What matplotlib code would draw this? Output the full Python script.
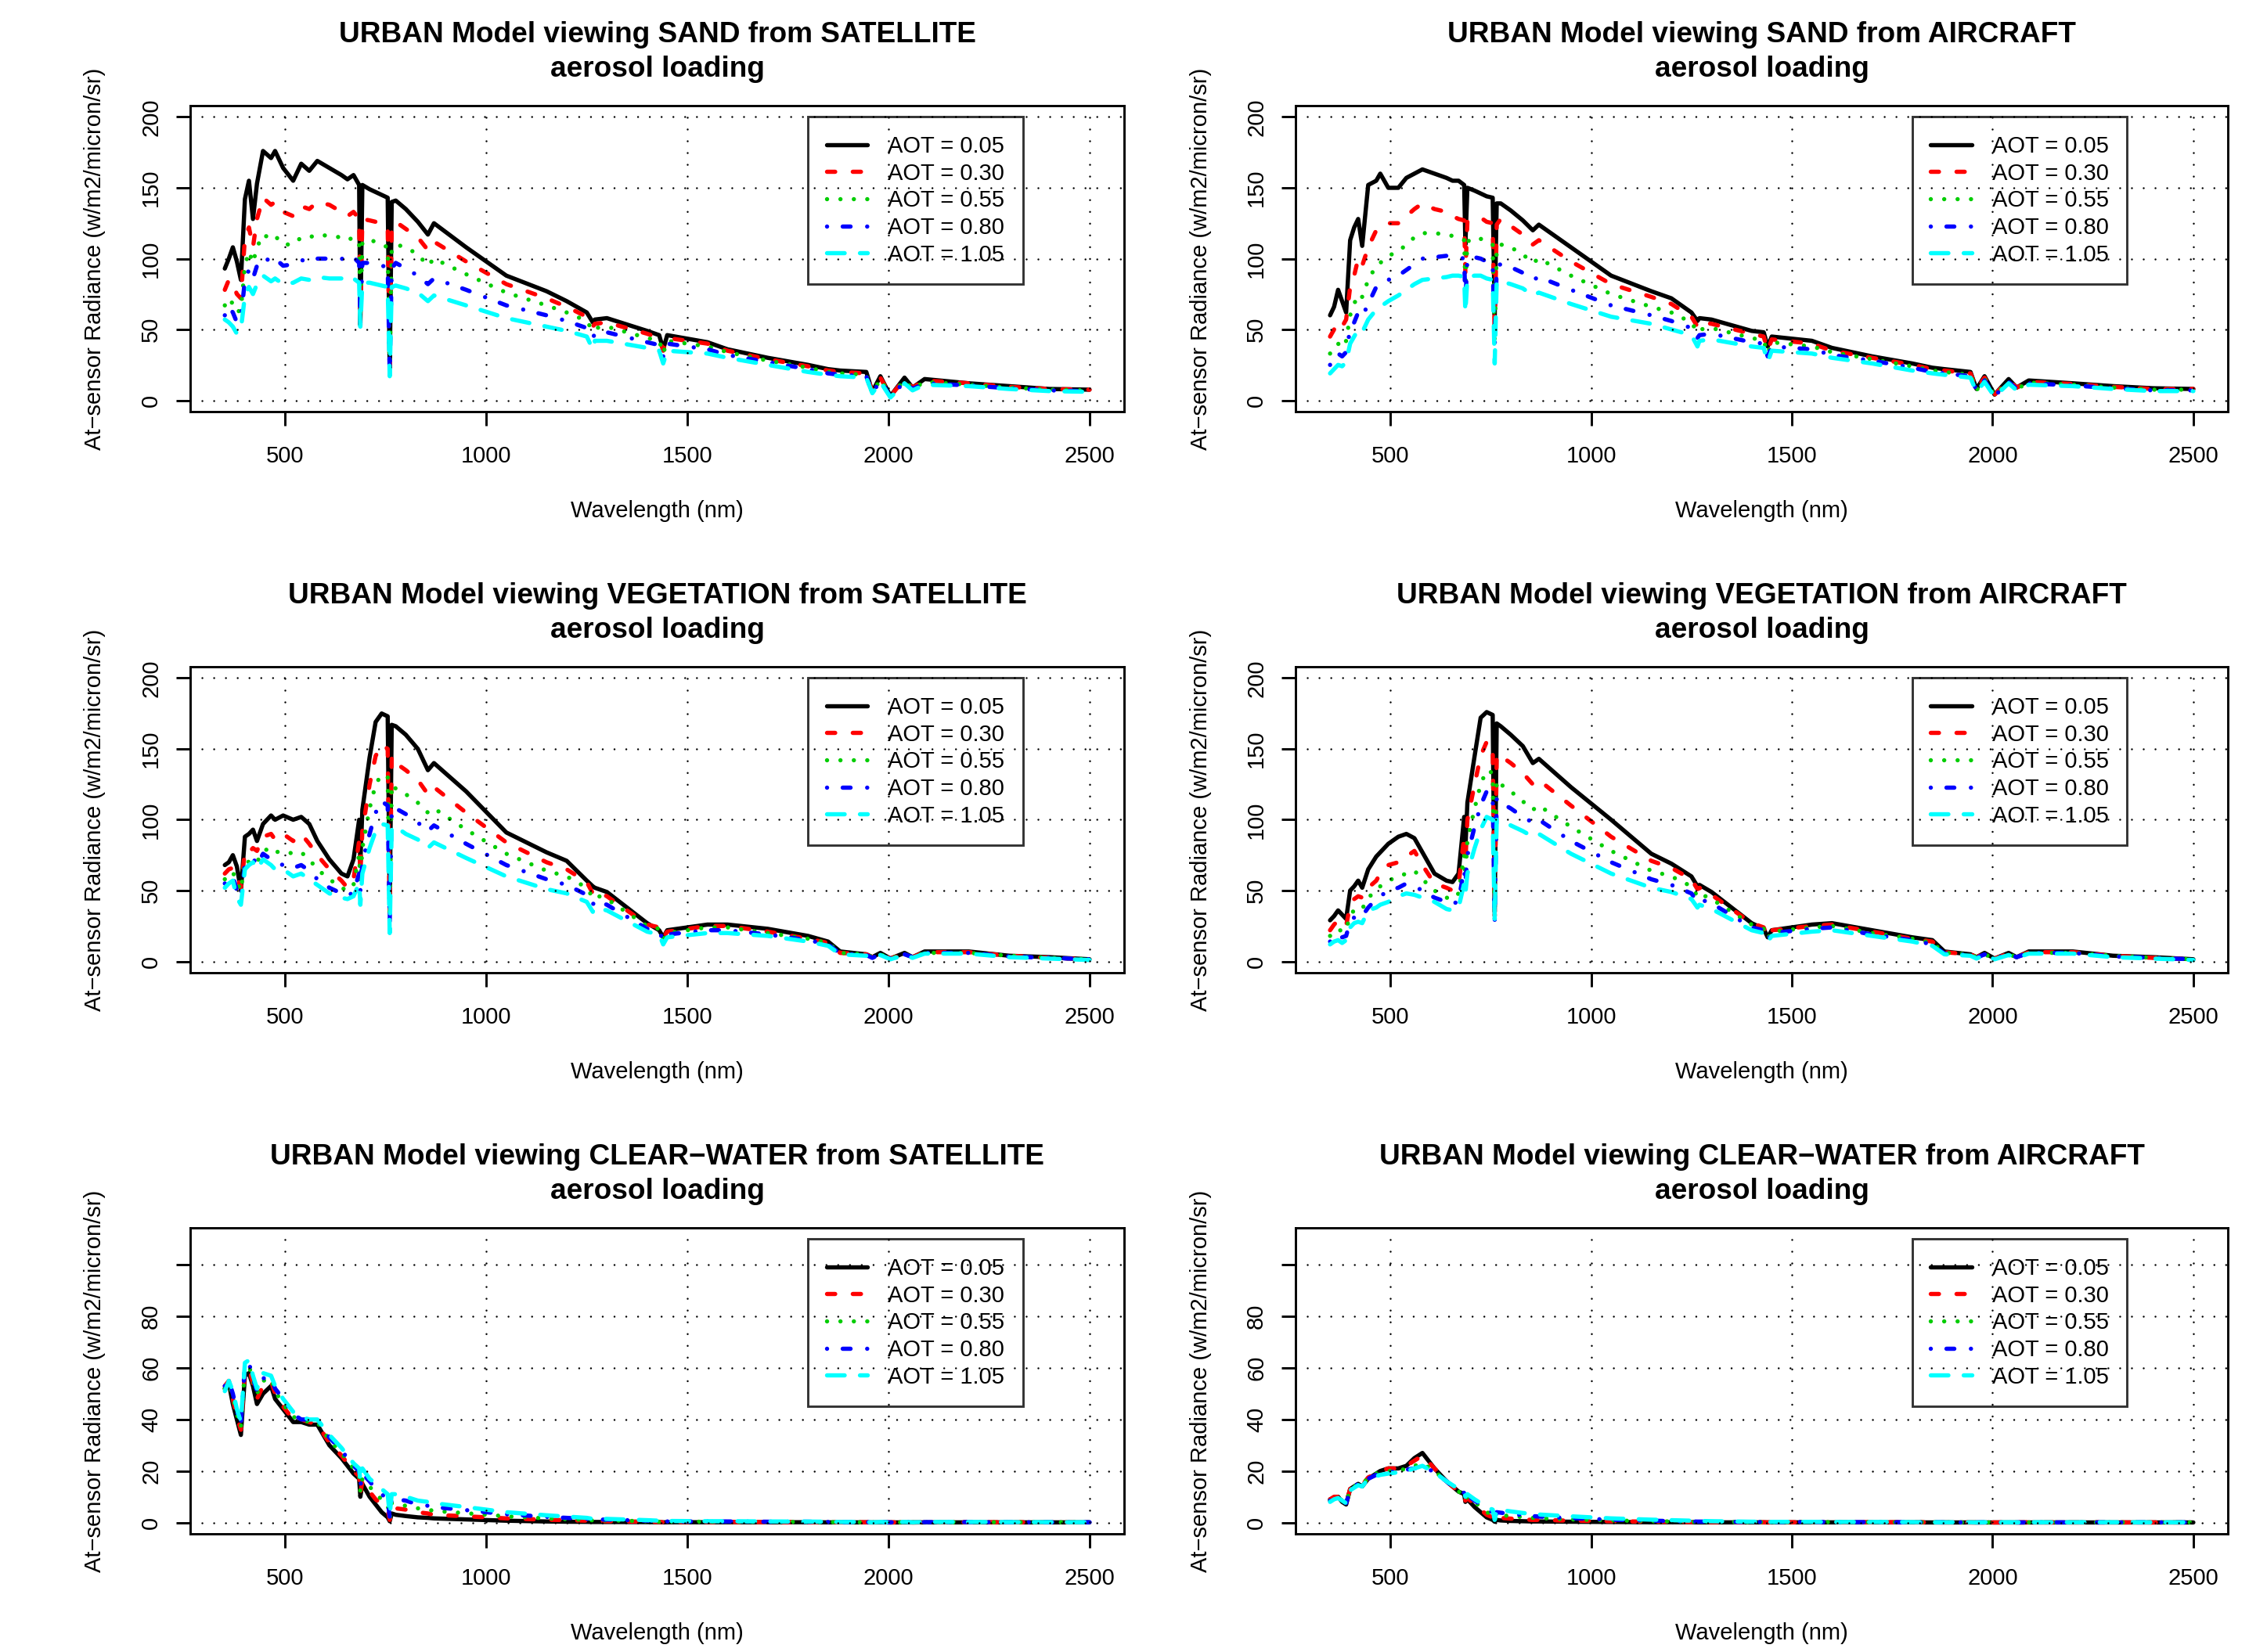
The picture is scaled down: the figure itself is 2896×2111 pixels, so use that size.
import matplotlib
matplotlib.use('Agg')
import matplotlib.pyplot as plt

plt.rcParams['font.family'] = ['Liberation Sans', 'DejaVu Sans']
plt.rcParams['lines.scale_dashes'] = False

# wavelength grid (nm), shared by all panels
wl = [350, 360, 370, 380, 390, 400, 410, 420, 430, 445,
      465, 475, 495, 520, 540, 560, 580, 610, 640, 655,
      670, 684, 687, 692, 710, 725, 740, 755, 760, 765, 775,
      800, 830, 855, 870, 950, 1050, 1150, 1200, 1250, 1265, 1270, 1300,
      1400, 1430, 1440, 1450, 1550, 1600, 1700, 1800, 1850, 1880,
      1945, 1960, 1980, 2005, 2040, 2060, 2090, 2200, 2300, 2400, 2500]

aot_labels = ['AOT = 0.05', 'AOT = 0.30', 'AOT = 0.55', 'AOT = 0.80', 'AOT = 1.05']

# ---- SAND, satellite
sand_sat_05 = [93, 100, 108, 98, 85, 142, 155, 128, 153, 176,
               171, 176, 164, 155, 167, 162, 169, 164, 159, 156,
               159, 152, 53, 152, 149, 147, 145, 143, 20, 140, 141,
               135, 126, 117, 125, 108, 88, 77, 70, 62, 55, 57, 58,
               49, 46, 36, 46, 41, 36, 30, 25, 22, 21,
               20, 6, 17, 3, 16, 9, 15, 12, 10, 8, 7.5]
sand_sat_30 = [78, 85, 82, 75, 72, 115, 122, 108, 128, 143,
               138, 140, 133, 130, 137, 135, 140, 138, 133, 130,
               133, 128, 62, 128, 127, 126, 124, 122, 25, 122, 126,
               121, 115, 106, 112, 98, 82, 72, 66, 59, 52, 54, 55,
               47, 44, 35, 44, 40, 35, 29, 24, 21, 20,
               19, 6, 16, 3, 15, 9, 14, 12, 9.5, 8, 7.5]
sand_sat_55 = [67, 72, 68, 62, 64, 95, 105, 97, 108, 117,
               114, 116, 110, 110, 115, 115, 117, 116, 115, 113,
               115, 111, 58, 112, 113, 112, 110, 108, 22, 106, 110,
               108, 103, 95, 100, 89, 76, 67, 62, 56, 49, 51, 52,
               44, 42, 33, 42, 38, 34, 28, 23, 20, 19,
               18, 5, 15, 3, 14, 8, 13, 11, 9, 7.5, 7]
sand_sat_80 = [60, 66, 62, 55, 58, 85, 92, 86, 95, 101,
               98, 100, 95, 96, 99, 98, 100, 100, 100, 99,
               101, 97, 55, 97, 97, 96, 95, 94, 20, 93, 97,
               93, 88, 82, 86, 78, 67, 60, 56, 51, 44, 47, 48,
               41, 39, 31, 40, 36, 32, 27, 22, 19, 18,
               17, 5, 14, 2.5, 13, 8, 12, 10.5, 8.5, 7, 6.5]
sand_sat_105 = [57, 55, 52, 47, 50, 74, 80, 75, 82, 88,
                84, 86, 82, 83, 86, 85, 87, 86, 86, 84,
                86, 83, 52, 83, 83, 82, 81, 80, 17, 80, 81,
                79, 76, 70, 74, 67, 58, 52, 49, 45, 36, 42, 42,
                37, 35, 26, 35, 33, 30, 25, 20, 18, 17,
                16, 5, 13, 2, 12, 7, 11, 10, 8, 6.5, 6]

# ---- SAND, aircraft
sand_air_05 = [60, 66, 78, 70, 62, 113, 122, 128, 109, 152,
               155, 160, 150, 150, 157, 160, 163, 160, 157, 155,
               155, 152, 110, 150, 148, 146, 144, 143, 60, 139, 139,
               134, 127, 120, 124, 108, 88, 77, 72, 62, 56, 58, 57,
               49, 48, 38, 45, 42, 37, 31, 26, 23, 22,
               20, 8, 17, 4, 15, 9, 14, 12, 10, 8.5, 8]
sand_air_30 = [45, 50, 55, 52, 57, 80, 88, 100, 95, 108,
               120, 122, 125, 125, 130, 135, 139, 135, 133, 130,
               128, 127, 90, 126, 128, 129, 126, 125, 45, 124, 128,
               123, 117, 110, 113, 98, 82, 73, 68, 59, 52, 55, 54,
               47, 45, 35, 43, 40, 35, 30, 25, 22, 21,
               19, 8, 16, 4, 14, 9, 13, 11.5, 9.5, 8, 8]
sand_air_55 = [33, 38, 40, 37, 42, 60, 68, 75, 73, 85,
               95, 97, 102, 105, 110, 115, 118, 118, 117, 116,
               114, 113, 80, 112, 115, 114, 112, 110, 40, 108, 110,
               108, 103, 97, 100, 88, 75, 66, 62, 55, 48, 50, 51,
               44, 42, 33, 41, 38, 34, 29, 24, 21, 20,
               18, 7, 15, 3.5, 13, 8, 12.5, 11, 9, 7.5, 7.5]
sand_air_80 = [25, 30, 33, 31, 34, 50, 55, 62, 59, 68,
               80, 83, 85, 88, 92, 96, 100, 101, 102, 102,
               101, 100, 70, 100, 101, 100, 98, 97, 38, 95, 96,
               94, 90, 85, 87, 78, 67, 60, 56, 51, 44, 46, 47,
               41, 40, 31, 38, 36, 32, 28, 23, 20, 19,
               17, 7, 14, 3, 13, 8, 12, 10.5, 8.5, 7, 7]
sand_air_105 = [19, 22, 25, 24, 27, 40, 45, 50, 48, 57,
                64, 66, 70, 74, 78, 82, 85, 86, 87, 88,
                88, 87, 62, 87, 88, 88, 86, 85, 26, 84, 84,
                82, 79, 74, 76, 68, 59, 54, 50, 46, 38, 42, 43,
                38, 37, 27, 35, 33, 30, 26, 21, 19, 18,
                16, 6, 13, 2.5, 12, 7, 11, 10, 8, 6.5, 6.5]

# ---- VEGETATION, satellite
veg_sat_05 = [68, 70, 75, 67, 50, 88, 90, 93, 85, 97,
              103, 100, 103, 100, 102, 97, 85, 72, 62, 60,
              72, 100, 70, 107, 144, 169, 175, 173, 40, 167, 166,
              160, 150, 135, 140, 120, 91, 77, 71, 57, 53, 52, 49,
              27, 22, 17, 22, 26, 26, 23, 18, 14, 7,
              5, 3, 6, 2, 6, 3, 7, 7, 4, 3, 1.5]
veg_sat_30 = [62, 65, 66, 60, 52, 78, 77, 80, 78, 88,
              90, 86, 90, 85, 90, 83, 75, 65, 57, 52,
              58, 85, 62, 92, 125, 145, 153, 150, 35, 145, 140,
              135, 128, 118, 123, 105, 84, 70, 65, 56, 48, 50, 46,
              26, 24, 17, 21, 25, 25, 21, 16, 13, 6,
              5, 3, 5.5, 2, 5.5, 3, 6.5, 6.5, 4, 2.5, 1.5]
veg_sat_55 = [58, 62, 63, 56, 50, 72, 70, 72, 70, 78,
              80, 77, 78, 76, 77, 72, 65, 58, 52, 50,
              54, 75, 56, 80, 108, 125, 132, 130, 30, 125, 122,
              118, 112, 105, 108, 93, 76, 64, 60, 52, 45, 47, 44,
              25, 23, 16, 20, 24, 24, 20, 16, 13, 6,
              5, 3, 5, 2, 5, 3, 6, 6, 4, 2.5, 1.5]
veg_sat_80 = [55, 58, 60, 50, 45, 68, 70, 73, 68, 76,
              72, 70, 68, 66, 68, 64, 58, 52, 48, 46,
              49, 62, 50, 70, 90, 105, 113, 110, 28, 108, 108,
              104, 98, 92, 96, 83, 68, 58, 54, 47, 40, 43, 40,
              23, 21, 15, 19, 22, 22, 19, 15, 12, 5.5,
              4.5, 2.5, 5, 2, 5, 3, 6, 6, 3.5, 2.5, 1.5]
veg_sat_105 = [52, 55, 57, 45, 40, 65, 68, 70, 65, 72,
               68, 65, 65, 60, 62, 58, 54, 48, 45, 44,
               46, 55, 40, 62, 80, 92, 97, 96, 20, 95, 95,
               90, 86, 80, 84, 73, 60, 51, 48, 42, 35, 38, 36,
               21, 19, 12, 17, 20, 20, 18, 14, 11, 5,
               4, 2, 4.5, 1.5, 4.5, 2.5, 5.5, 5.5, 3, 2, 1]

# ---- VEGETATION, aircraft
veg_air_05 = [29, 32, 36, 33, 30, 50, 53, 57, 52, 65,
              74, 77, 83, 88, 90, 87, 77, 62, 57, 56,
              62, 102, 80, 112, 145, 172, 176, 174, 35, 168, 166,
              160, 152, 140, 143, 123, 100, 76, 69, 60, 53, 54, 49,
              27, 23, 17, 22, 26, 27, 22, 17, 15, 7,
              5, 3, 6, 2, 6, 3, 7, 7, 4, 3, 1.5]
veg_air_30 = [22, 26, 29, 26, 25, 40, 44, 46, 45, 52,
              57, 62, 68, 70, 74, 78, 68, 55, 52, 50,
              54, 88, 70, 100, 125, 145, 155, 152, 32, 146, 145,
              140, 133, 125, 128, 110, 88, 71, 66, 58, 51, 52, 47,
              27, 24, 17, 22, 25, 26, 21, 16, 14, 6.5,
              5, 3, 5.5, 2, 5.5, 3, 6.5, 6.5, 4, 2.5, 1.5]
veg_air_55 = [18, 21, 23, 21, 22, 33, 36, 38, 37, 45,
              50, 53, 57, 60, 62, 64, 58, 50, 45, 44,
              48, 75, 60, 85, 108, 125, 135, 133, 30, 128, 125,
              120, 113, 107, 110, 95, 78, 64, 60, 53, 46, 48, 44,
              26, 23, 16, 21, 24, 25, 20, 16, 13, 6,
              5, 3, 5, 2, 5, 3, 6, 6, 4, 2.5, 1.5]
veg_air_80 = [14, 17, 19, 17, 18, 28, 31, 33, 32, 38,
              44, 46, 50, 52, 55, 53, 50, 45, 42, 40,
              43, 65, 55, 75, 95, 110, 120, 118, 28, 115, 112,
              108, 102, 98, 100, 85, 70, 58, 54, 48, 42, 44, 41,
              24, 22, 15, 20, 23, 24, 19, 15, 12, 5.5,
              4.5, 2.5, 5, 2, 5, 3, 6, 6, 3.5, 2.5, 1.5]
veg_air_105 = [12, 14, 15, 13, 15, 24, 27, 28, 27, 36,
               38, 40, 42, 46, 48, 47, 45, 42, 37, 36,
               38, 55, 48, 62, 80, 93, 102, 100, 30, 100, 100,
               96, 92, 88, 90, 76, 62, 52, 49, 44, 38, 40, 37,
               22, 20, 14, 18, 21, 22, 18, 14, 11, 5,
               4, 2, 4.5, 1.5, 4.5, 2.5, 5.5, 5.5, 3, 2, 1]

# ---- CLEAR-WATER, satellite
water_sat_05 = [52, 54, 46, 40, 34, 57, 58, 53, 46, 50,
                53, 48, 44, 39, 39, 38, 38, 30, 25, 22,
                19, 17, 10, 15, 10, 7, 4, 2, 0.5, 3.5, 3,
                2.5, 2, 1.8, 1.6, 1.2, 0.7, 0.4, 0.3, 0.25, 0.2, 0.2, 0.2,
                0.15, 0.1, 0.05, 0.1, 0.1, 0.1, 0.1, 0.1, 0.05, 0.05,
                0.05, 0.02, 0.05, 0.02, 0.05, 0.02, 0.05, 0.05, 0.05, 0.05, 0.05]
water_sat_30 = [53, 55, 48, 41, 36, 59, 60, 54, 48, 53,
                55, 50, 45, 40, 40, 39, 38, 31, 26, 23,
                20, 18, 11, 16, 12, 9, 7, 5, 1, 6, 5.5,
                5, 4, 3.5, 3, 2.4, 1.6, 1.1, 0.9, 0.7, 0.5, 0.6, 0.5,
                0.3, 0.2, 0.1, 0.2, 0.2, 0.2, 0.15, 0.15, 0.1, 0.1,
                0.1, 0.05, 0.1, 0.05, 0.1, 0.05, 0.1, 0.1, 0.1, 0.1, 0.1]
water_sat_55 = [52, 54, 49, 42, 37, 60, 61, 55, 50, 55,
                56, 51, 46, 41, 40, 39, 39, 32, 27, 24,
                21, 19, 12, 17, 14, 11, 9, 7, 1.5, 7.5, 7,
                6.5, 5.5, 5, 4.5, 3.6, 2.4, 1.6, 1.3, 1.0, 0.8, 0.9, 0.8,
                0.5, 0.3, 0.15, 0.3, 0.3, 0.3, 0.2, 0.2, 0.15, 0.1,
                0.1, 0.05, 0.1, 0.05, 0.1, 0.05, 0.1, 0.1, 0.1, 0.1, 0.1]
water_sat_80 = [53, 55, 50, 43, 38, 61, 62, 56, 51, 56,
                56, 52, 48, 42, 40, 40, 40, 33, 28, 25,
                22, 20, 14, 19, 16, 13, 11, 9, 2, 9.5, 9,
                8.5, 7, 6.5, 6, 4.8, 3.2, 2.2, 1.8, 1.4, 1.1, 1.2, 1.1,
                0.7, 0.5, 0.2, 0.4, 0.4, 0.4, 0.3, 0.3, 0.2, 0.15,
                0.15, 0.05, 0.15, 0.05, 0.15, 0.1, 0.15, 0.15, 0.1, 0.1, 0.1]
water_sat_105 = [51, 55, 51, 44, 39, 62, 63, 57, 52, 58,
                 57, 53, 48, 43, 41, 40, 40, 34, 29, 26,
                 23, 21, 16, 21, 17, 15, 13, 11, 3, 11, 11,
                 10, 8.5, 8, 7.5, 6, 4, 2.8, 2.3, 1.8, 1.4, 1.5, 1.4,
                 0.9, 0.7, 0.3, 0.6, 0.5, 0.5, 0.4, 0.35, 0.3, 0.2,
                 0.2, 0.05, 0.2, 0.05, 0.2, 0.1, 0.2, 0.2, 0.15, 0.15, 0.1]

# ---- CLEAR-WATER, aircraft
water_air_05 = [9, 9.5, 10, 8, 7, 13, 14, 15, 14, 17,
                19, 20, 21, 21, 22, 25, 27, 21, 16, 14,
                12, 11, 8, 9, 6, 4, 2, 1, 0.3, 1, 0.8,
                0.6, 0.5, 0.4, 0.4, 0.3, 0.2, 0.1, 0.1, 0.1, 0.05, 0.05, 0.05,
                0.05, 0.05, 0.02, 0.05, 0.05, 0.05, 0.05, 0.05, 0.02, 0.02,
                0.02, 0.01, 0.02, 0.01, 0.02, 0.01, 0.02, 0.02, 0.02, 0.02, 0.02]
water_air_30 = [9, 10, 10, 8.5, 7.5, 13, 14, 15, 14.5, 17.5,
                19, 20, 21, 21, 22, 24, 26, 21, 16, 14,
                12, 11, 8.5, 9.5, 7, 5, 3, 2, 0.5, 2, 1.8,
                1.5, 1.2, 1.0, 1.0, 0.7, 0.5, 0.3, 0.25, 0.2, 0.15, 0.15, 0.15,
                0.1, 0.1, 0.05, 0.1, 0.1, 0.1, 0.1, 0.1, 0.05, 0.05,
                0.05, 0.02, 0.05, 0.02, 0.05, 0.02, 0.05, 0.05, 0.05, 0.05, 0.05]
water_air_55 = [8.5, 9.5, 10, 8.5, 7.5, 13, 14, 15, 14.5, 17.5,
                19, 19.5, 20, 20, 21, 22, 23, 20, 16, 14,
                12, 11, 9, 10, 8, 6, 4, 3, 0.8, 3, 2.8,
                2.5, 2.1, 1.8, 1.7, 1.2, 0.8, 0.5, 0.4, 0.3, 0.25, 0.25, 0.25,
                0.15, 0.15, 0.05, 0.15, 0.15, 0.15, 0.1, 0.1, 0.1, 0.05,
                0.05, 0.02, 0.05, 0.02, 0.05, 0.02, 0.05, 0.05, 0.05, 0.05, 0.05]
water_air_80 = [8.5, 9, 9.5, 8.5, 7.5, 12.5, 14, 15, 14.5, 17,
                18.5, 19, 19.5, 20, 20.5, 21, 22, 19.5, 16, 14,
                12.5, 11.5, 9, 10.5, 8.5, 7, 5, 4, 1, 4, 3.8,
                3.3, 2.8, 2.5, 2.3, 1.7, 1.1, 0.7, 0.55, 0.4, 0.35, 0.35, 0.3,
                0.2, 0.2, 0.1, 0.2, 0.2, 0.15, 0.15, 0.1, 0.1, 0.05,
                0.05, 0.02, 0.05, 0.02, 0.05, 0.02, 0.05, 0.05, 0.05, 0.05, 0.05]
water_air_105 = [8, 9, 9.5, 8.5, 7.5, 12.5, 13.5, 14.5, 14, 17,
                 18, 18.5, 19, 19.5, 20, 21, 22, 19.5, 16, 14.5,
                 13, 12, 10, 11, 9, 7.5, 6, 5, 1, 5, 4.8,
                 4.3, 3.7, 3.3, 3.1, 2.4, 1.6, 1.1, 0.9, 0.7, 0.5, 0.6, 0.5,
                 0.3, 0.3, 0.1, 0.25, 0.25, 0.2, 0.2, 0.15, 0.1, 0.1,
                 0.1, 0.03, 0.1, 0.03, 0.1, 0.05, 0.1, 0.1, 0.1, 0.08, 0.08]

panels = [
    ('URBAN Model viewing SAND from SATELLITE',
     [sand_sat_05, sand_sat_30, sand_sat_55, sand_sat_80, sand_sat_105], 200, 50),
    ('URBAN Model viewing SAND from AIRCRAFT',
     [sand_air_05, sand_air_30, sand_air_55, sand_air_80, sand_air_105], 200, 50),
    ('URBAN Model viewing VEGETATION from SATELLITE',
     [veg_sat_05, veg_sat_30, veg_sat_55, veg_sat_80, veg_sat_105], 200, 50),
    ('URBAN Model viewing VEGETATION from AIRCRAFT',
     [veg_air_05, veg_air_30, veg_air_55, veg_air_80, veg_air_105], 200, 50),
    ('URBAN Model viewing CLEAR\u2212WATER from SATELLITE',
     [water_sat_05, water_sat_30, water_sat_55, water_sat_80, water_sat_105], 110, 20),
    ('URBAN Model viewing CLEAR\u2212WATER from AIRCRAFT',
     [water_air_05, water_air_30, water_air_55, water_air_80, water_air_105], 110, 20),
]

# R default palette 1:5 and lty 1:5 (round caps, dash lengths in points)
line_colors = ['black', 'red', '#00CD00', 'blue', 'cyan']
line_styles = ['-', (0, (2.5, 5.4)), (0, (0.01, 4.1)),
               (0, (0.01, 4.8, 2.4, 5.1)), (0, (5.4, 4.7))]
LW = 1.3

W, H, DPI = 2896, 2111, 300
fig = plt.figure(figsize=(W / DPI, H / DPI), dpi=DPI)
fig.patch.set_facecolor('white')

col_x = [(243, 1436), (1655, 2846)]
row_top = [135, 852, 1569]
box_h = 391
xlo, xhi = 350, 2500

for i, (title, series, ymax, ystep) in enumerate(panels):
    left, right = col_x[i % 2]
    top = row_top[i // 2]
    ax = fig.add_axes([left / W, 1 - (top + box_h) / H, (right - left) / W, box_h / H])

    handles = []
    for vals, c, ls in zip(series, line_colors, line_styles):
        h, = ax.plot(wl, vals, color=c, linestyle=ls, lw=LW,
                     dash_capstyle='round', solid_capstyle='round',
                     solid_joinstyle='round', dash_joinstyle='round')
        handles.append(h)

    # R style 4% axis expansion
    dx = 0.04 * (xhi - xlo)
    ax.set_xlim(xlo - dx, xhi + dx)
    ax.set_ylim(-0.04 * ymax, 1.04 * ymax)

    xt = [500, 1000, 1500, 2000, 2500]
    yt = list(range(0, (ymax // ystep) * ystep + 1, ystep))
    ax.set_xticks(xt)
    ax.set_yticks(yt)
    ylabs = [str(v) for v in yt]
    if ymax == 110:
        ylabs[-1] = ''  # R drops the overlapping top label
    ax.set_yticklabels(ylabs)

    ax.tick_params(direction='out', length=4.3, width=0.7, labelsize=7,
                   top=False, right=False)
    ax.tick_params(axis='x', pad=6.0)
    ax.tick_params(axis='y', pad=4.3, labelrotation=90)
    for lab in ax.get_yticklabels():
        lab.set_verticalalignment('center')
    for sp in ax.spines.values():
        sp.set_linewidth(0.7)

    # dotted grid like grid()
    for x in xt:
        ax.axvline(x, color='black', lw=0.6, linestyle=(0, (0.01, 3.6)),
                   dash_capstyle='round', zorder=6)
    for y in yt:
        ax.axhline(y, color='black', lw=0.6, linestyle=(0, (0.01, 3.6)),
                   dash_capstyle='round', zorder=6)

    leg = ax.legend(handles, aot_labels, loc='upper left',
                    bbox_to_anchor=(1800, ymax), bbox_transform=ax.transData,
                    borderaxespad=0, fancybox=False, frameon=True,
                    edgecolor='black', facecolor='none', framealpha=None,
                    fontsize=7, handlelength=1.8, handletextpad=0.9,
                    borderpad=0.8, labelspacing=0.23)
    leg.get_frame().set_linewidth(0.7)

    ax.text(0.5, 1.232, title, transform=ax.transAxes, ha='center', va='center',
            fontsize=8.9, fontweight='bold')
    ax.text(0.5, 1.119, 'aerosol loading', transform=ax.transAxes, ha='center',
            va='center', fontsize=8.9, fontweight='bold')

    ax.set_xlabel('Wavelength (nm)', fontsize=7)
    ax.xaxis.set_label_coords(0.5, -0.325)
    ax.xaxis.label.set_verticalalignment('center')
    ax.set_ylabel('At\u2212sensor Radiance (w/m2/micron/sr)', fontsize=7)
    ax.yaxis.set_label_coords(-0.102, 0.5)
    ax.yaxis.label.set_verticalalignment('center')

fig.savefig('out.png', dpi=DPI, facecolor='white')
